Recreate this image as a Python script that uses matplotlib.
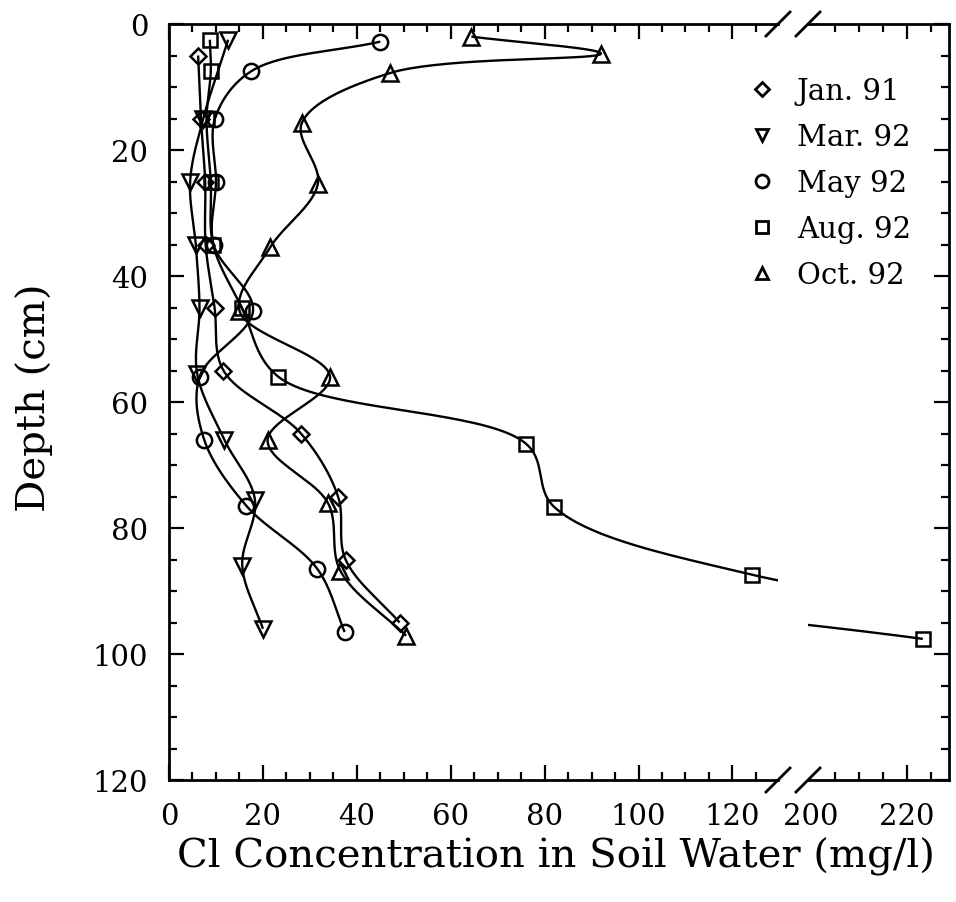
import numpy as np
import matplotlib
matplotlib.use("Agg")
import matplotlib.pyplot as plt
from matplotlib.lines import Line2D
from matplotlib.ticker import MultipleLocator, FixedLocator

# ---------------- data ----------------
labels = ["Jan. 91", "Mar. 92", "May 92", "Aug. 92", "Oct. 92"]
markers = ["D", "v", "o", "s", "^"]

jan_depth = [5, 15, 25, 35, 45, 55, 65, 75, 85, 95]
jan_cl = [6.2, 6.8, 7.7, 7.8, 9.7, 11.6, 28.1, 36.0, 37.6, 49.1]

mar_depth = [2.5, 15, 25, 35, 45, 55.5, 66, 75.5, 86, 96]
mar_cl = [12.6, 7.3, 4.5, 5.7, 6.5, 6.0, 11.8, 18.3, 15.6, 20.0]

may_depth = [2.8, 7.5, 15, 25, 35, 45.5, 56, 66, 76.5, 86.5, 96.5]
may_cl = [45.0, 17.5, 9.8, 10.0, 9.5, 17.9, 6.5, 7.5, 16.5, 31.6, 37.4]

aug_depth = [2.5, 7.5, 15, 25, 35, 45, 56, 66.6, 76.7, 87.4, 97.6]
aug_cl = [8.7, 8.9, 8.0, 8.9, 9.4, 15.5, 23.3, 76.0, 82.1, 124.1, 223.3]

oct_depth = [2.0, 4.7, 7.8, 15.7, 25.4, 35.4, 45.5, 56, 66.1, 76.1, 86.8, 97.1]
oct_cl = [64.4, 92.0, 47.0, 28.3, 31.7, 21.6, 15.0, 34.3, 21.0, 33.9, 36.5, 50.5]

series_x = [jan_cl, mar_cl, may_cl, aug_cl, oct_cl]
series_y = [jan_depth, mar_depth, may_depth, aug_depth, oct_depth]

left_ticks = [0, 20, 40, 60, 80, 100, 120]
right_ticks = [200, 220]
depth_ticks = [0, 20, 40, 60, 80, 100, 120]

# ---------------- helpers ----------------
def catmull_rom(xs, ys, sx=4.7, sy=6.3, n=40, alpha=0.5):
    P = np.column_stack([np.asarray(xs, float) * sx, np.asarray(ys, float) * sy])
    P = np.vstack([2 * P[0] - P[1], P, 2 * P[-1] - P[-2]])
    out = []
    for i in range(1, len(P) - 2):
        p0, p1, p2, p3 = P[i - 1], P[i], P[i + 1], P[i + 2]
        t0 = 0.0
        t1 = t0 + np.linalg.norm(p1 - p0) ** alpha
        t2 = t1 + np.linalg.norm(p2 - p1) ** alpha
        t3 = t2 + np.linalg.norm(p3 - p2) ** alpha
        t = np.linspace(t1, t2, n)[:, None]
        A1 = (t1 - t) / (t1 - t0) * p0 + (t - t0) / (t1 - t0) * p1
        A2 = (t2 - t) / (t2 - t1) * p1 + (t - t1) / (t2 - t1) * p2
        A3 = (t3 - t) / (t3 - t2) * p2 + (t - t2) / (t3 - t2) * p3
        B1 = (t2 - t) / (t2 - t0) * A1 + (t - t0) / (t2 - t0) * A2
        B2 = (t3 - t) / (t3 - t1) * A2 + (t - t1) / (t3 - t1) * A3
        C = (t2 - t) / (t2 - t1) * B1 + (t - t1) / (t2 - t1) * B2
        out.append(C)
    C = np.vstack(out)
    return C[:, 0] / sx, C[:, 1] / sy

# ---------------- figure ----------------
W, H = 956, 903
fig = plt.figure(figsize=(W / 100, H / 100), dpi=100)
plt.rcParams["font.family"] = ["DejaVu Serif"]

top_px, bot_px = 25, 781
axL = fig.add_axes([169 / W, 1 - bot_px / H, (778 - 169) / W, (bot_px - top_px) / H])
axR = fig.add_axes([808 / W, 1 - bot_px / H, (949 - 808) / W, (bot_px - top_px) / H])

axL.set_xlim(0, 129.7)
axR.set_xlim(199.4, 228.75)
for ax in (axL, axR):
    ax.set_ylim(120, 0)
    for sp in ax.spines.values():
        sp.set_linewidth(2.0)
axL.spines["right"].set_visible(False)
axR.spines["left"].set_visible(False)

sizes = {"o": 11, "s": 9.5, "D": 8, "v": 11, "^": 11}
lw = 1.7
for xs, ys, m in zip(series_x, series_y, markers):
    cx, cy = catmull_rom(xs, ys)
    for ax in (axL, axR):
        ax.plot(cx, cy, color="black", lw=lw, solid_capstyle="butt")
        ax.plot(xs, ys, ls="none", marker=m, ms=sizes[m], mfc="none", mec="black", mew=1.8)

# ticks
tick_kw = dict(direction="in", width=1.6, colors="black")
axL.set_xticks(left_ticks)
axL.xaxis.set_minor_locator(MultipleLocator(5))
axL.set_yticks(depth_ticks)
axL.yaxis.set_minor_locator(MultipleLocator(5))
axL.tick_params(which="both", top=True, bottom=True, left=True, right=False, **tick_kw)
axL.tick_params(which="major", length=11)
axL.tick_params(which="minor", length=6)
axL.tick_params(axis="x", which="major", labelsize=21, pad=16)
axL.tick_params(axis="y", which="major", labelsize=21, pad=15)

axR.set_xticks(right_ticks)
axR.xaxis.set_minor_locator(FixedLocator([205, 210, 215, 225]))
axR.set_yticks(depth_ticks)
axR.yaxis.set_minor_locator(MultipleLocator(5))
axR.tick_params(which="both", top=True, bottom=True, left=False, right=True,
                labelleft=False, labelright=False, **tick_kw)
axR.tick_params(which="major", length=11)
axR.tick_params(which="minor", length=6)
axR.tick_params(axis="x", which="major", labelsize=21, pad=16)
t200 = axR.xaxis.get_major_ticks()[0]
t200.tick1line.set_visible(False)
t200.tick2line.set_visible(False)

# break marks
for cxp in (778, 808):
    for cyp in (top_px, bot_px):
        fig.add_artist(Line2D([(cxp - 12) / W, (cxp + 12) / W],
                              [1 - (cyp + 12) / H, 1 - (cyp - 12) / H],
                              transform=fig.transFigure, color="black", lw=2))

# labels
fig.text(556 / W, 1 - 857 / H, "Cl Concentration in Soil Water (mg/l)",
         ha="center", va="center", fontsize=29)
fig.text(34 / W, 1 - 398 / H, "Depth (cm)", rotation=90,
         ha="center", va="center", fontsize=29)

# legend
handles = [Line2D([], [], ls="none", marker=m, ms=sizes[m] * 0.85,
                  mfc="none", mec="black", mew=2) for m in markers]
fig.legend(handles, labels, loc="upper left", bbox_to_anchor=(750 / W, 1 - 78 / H),
           bbox_transform=fig.transFigure, frameon=False, fontsize=21,
           handlelength=0.8, handletextpad=0.8, labelspacing=0.62, borderpad=0,
           borderaxespad=0)

fig.savefig("out.png", dpi=100)
